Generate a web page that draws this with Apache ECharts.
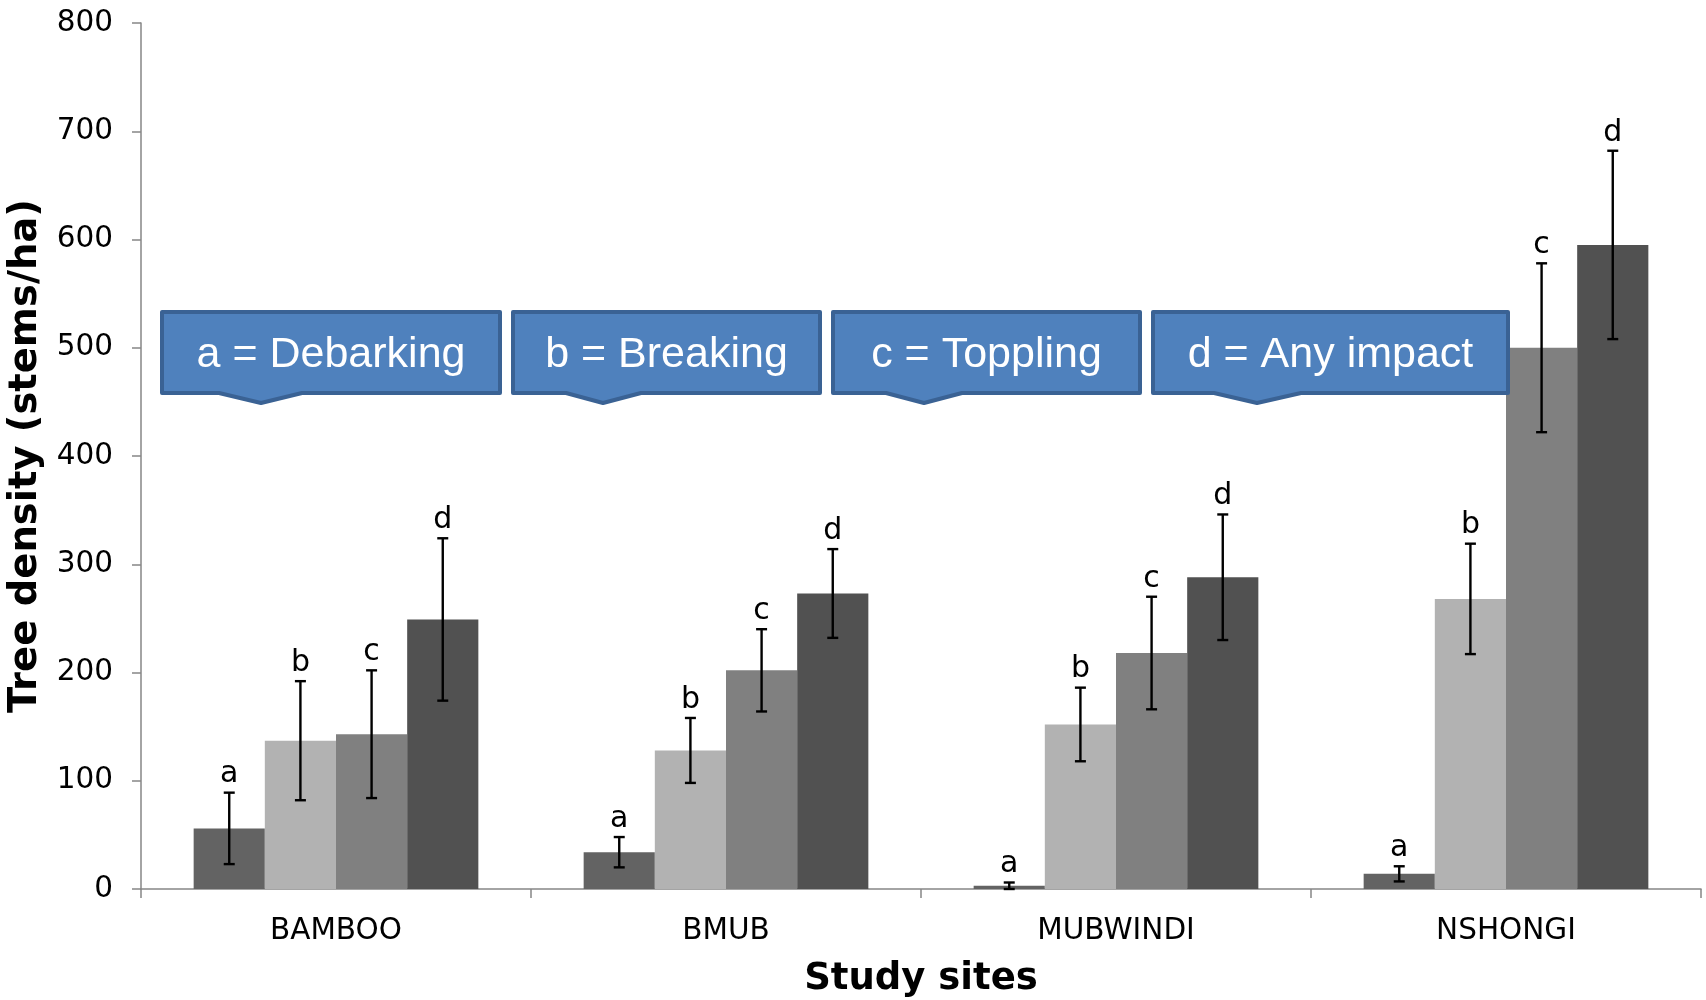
<!DOCTYPE html>
<html>
<head>
<meta charset="utf-8">
<script src="https://cdn.jsdelivr.net/npm/echarts@6/dist/echarts.min.js"></script>
<style>html,body{margin:0;padding:0;background:#fff;}#chart{width:1706px;height:1000px;}</style>
</head>
<body>
<div id="chart"></div>
<script>
// ---- data ----
const sites = ['BAMBOO', 'BMUB', 'MUBWINDI', 'NSHONGI'];
const seriesNames = ['a', 'b', 'c', 'd'];
const debarking = [56, 34, 3, 14];
const breaking  = [137, 128, 152, 268];
const toppling  = [143, 202, 218, 500];
const anyImpact = [249, 273, 288, 595];
const debarkingErr = [33, 14, 3, 7];
const breakingErr  = [55, 30, 34, 51];
const topplingErr  = [59, 38, 52, 78];
const anyImpactErr = [75, 41, 58, 87];
const yTicks = [0, 100, 200, 300, 400, 500, 600, 700, 800];
const calloutLabels = ['a = Debarking', 'b = Breaking', 'c = Toppling', 'd = Any impact'];

const values = [debarking, breaking, toppling, anyImpact];
const errors = [debarkingErr, breakingErr, topplingErr, anyImpactErr];
const colors = ['#636363', '#b2b2b2', '#808080', '#515151'];
const CAT_GAP = 0.27;

const chart = echarts.init(document.getElementById('chart'), null, {renderer: 'canvas'});

const barSeries = seriesNames.map((n, i) => ({
  name: n,
  type: 'bar',
  data: values[i],
  barGap: '0%',
  barCategoryGap: (CAT_GAP * 100) + '%',
  itemStyle: {color: colors[i]},
  silent: true,
  z: 2
}));

const errData = [];
seriesNames.forEach((n, s) => {
  sites.forEach((site, c) => {
    errData.push([c, s, values[s][c], errors[s][c]]);
  });
});

const errSeries = {
  type: 'custom',
  z: 5,
  silent: true,
  data: errData,
  renderItem: function (params, api) {
    const c = api.value(0), s = api.value(1), v = api.value(2), e = api.value(3);
    const band = api.size([1, 0])[0];
    const bw = band * (1 - CAT_GAP) / 4;
    const base = api.coord([c, 0]);
    const cx = base[0] + (s - 1.5) * bw;
    const yTop = api.coord([c, v + e])[1];
    const yBot = api.coord([c, Math.max(0, v - e)])[1];
    const cap = 5.5;
    const st = {stroke: '#000', lineWidth: 2.4};
    return {
      type: 'group',
      children: [
        {type: 'line', shape: {x1: cx, y1: yTop, x2: cx, y2: yBot}, style: st},
        {type: 'line', shape: {x1: cx - cap, y1: yTop, x2: cx + cap, y2: yTop}, style: st},
        {type: 'line', shape: {x1: cx - cap, y1: yBot, x2: cx + cap, y2: yBot}, style: st},
        {type: 'text', x: cx, y: yTop - 3,
         style: {text: seriesNames[s], fill: '#000', font: '30px "DejaVu Sans"', align: 'center', verticalAlign: 'bottom'}}
      ]
    };
  }
};

// callout boxes (annotation shapes)
const boxes = [
  {L: 162, R: 500, wL: 219, tip: 261, wR: 302},
  {L: 513, R: 820, wL: 566, tip: 603, wR: 641},
  {L: 833, R: 1140, wL: 886, tip: 924, wR: 962},
  {L: 1153, R: 1508, wL: 1214, tip: 1257, wR: 1301}
];
const T = 312, B = 393, TIP = 403;
const graphics = [];
boxes.forEach((b, i) => {
  graphics.push({
    type: 'polygon',
    z: 10,
    shape: {points: [[b.L, T], [b.R, T], [b.R, B], [b.wR, B], [b.tip, TIP], [b.wL, B], [b.L, B]]},
    style: {fill: '#4f81bd', stroke: '#3a6294', lineWidth: 4, lineJoin: 'round'}
  });
  graphics.push({
    type: 'text',
    z: 11,
    x: (b.L + b.R) / 2,
    y: 355,
    style: {text: calloutLabels[i], fill: '#ffffff', font: '43px "Liberation Sans"', align: 'center', verticalAlign: 'middle'}
  });
});

const option = {
  animation: false,
  backgroundColor: '#ffffff',
  grid: {left: 141, right: 5, top: 23, bottom: 111, containLabel: false, outerBoundsMode: 'none'},
  xAxis: {
    type: 'category',
    data: sites,
    name: 'Study sites',
    nameLocation: 'middle',
    nameGap: 72,
    nameTextStyle: {fontFamily: 'DejaVu Sans', fontWeight: 'bold', fontSize: 37, color: '#000'},
    axisLine: {show: true, lineStyle: {color: '#868686', width: 1.5}},
    axisTick: {show: true, length: 9, lineStyle: {color: '#868686', width: 1.5}},
    axisLabel: {fontFamily: 'DejaVu Sans', fontSize: 29.5, color: '#000', margin: 27}
  },
  yAxis: {
    type: 'value',
    min: yTicks[0],
    max: yTicks[yTicks.length - 1],
    interval: yTicks[1] - yTicks[0],
    name: 'Tree density (stems/ha)',
    nameLocation: 'middle',
    nameGap: 88,
    nameRotate: 90,
    nameTextStyle: {fontFamily: 'DejaVu Sans', fontWeight: 'bold', fontSize: 38.5, color: '#000'},
    splitLine: {show: false},
    axisLine: {show: true, lineStyle: {color: '#868686', width: 1.5}},
    axisTick: {show: true, length: 9, lineStyle: {color: '#868686', width: 1.5}},
    axisLabel: {fontFamily: 'DejaVu Sans', fontSize: 29.5, color: '#000', margin: 28}
  },
  series: barSeries.concat([errSeries]),
  graphic: graphics
};
chart.setOption(option);
</script>
</body>
</html>
